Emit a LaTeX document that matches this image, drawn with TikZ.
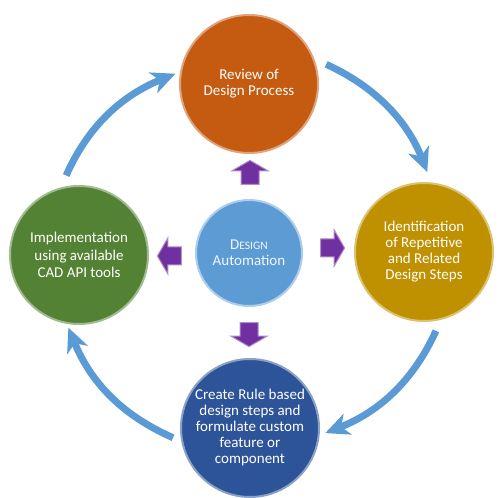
\documentclass[tikz,border=0pt]{standalone}
\usepackage{fontspec}
\setmainfont{Carlito}
\usetikzlibrary{arrows.meta,shapes.arrows}
\definecolor{faceR}{RGB}{197,90,17}
\definecolor{faceI}{RGB}{191,144,0}
\definecolor{faceC}{RGB}{45,84,152}
\definecolor{faceM}{RGB}{84,130,53}
\definecolor{hubc}{RGB}{93,155,213}
\definecolor{arcc}{RGB}{91,155,213}
\definecolor{pushc}{RGB}{112,48,160}
\tikzset{
  stage/.style={circle,fill=#1,draw=#1!55!white,line width=2pt,minimum size=138pt,
    inner sep=0pt,text=white,align=center,font=\fontsize{15}{16}\selectfont},
  hub/.style={circle,fill=hubc,draw=hubc!50!white,line width=2pt,minimum size=106pt,
    inner sep=0pt,text=white!92!hubc,align=center,font=\fontsize{15}{16}\selectfont},
  cyc/.style={-{Stealth[length=24pt,width=22pt,inset=7pt]},line width=7pt,arcc},
  push/.style={single arrow,fill=pushc,draw=pushc!55!white,line width=1pt,
    minimum height=24pt,inner xsep=0pt,inner ysep=8.5pt,single arrow head extend=9pt,
    single arrow tip angle=120,single arrow head indent=0pt},
}

\begin{document}
\begin{tikzpicture}[x=1pt,y=1pt]
  \useasboundingbox (0,0) rectangle (502,497);
  \node[stage=faceR] (review) at (249,413) {Review of\\Design Process};
  \node[stage=faceI] (ident) at (424,245)
    {Identification\\of Repetitive\\and Related\\Design Steps};
  \node[stage=faceC] (create) at (250,69)
    {Create Rule based\\design steps and\\formulate custom\\feature or\\component};
  \node[stage=faceM,font=\fontsize{15}{17.5}\selectfont] (impl) at (79,242)
    {Implementation\\using available\\CAD API tools};
  \node[hub] (design) at (249,244)
    {D{\fontsize{11.5}{12}\selectfont ESIGN}\\Automation};

  % block arrows round the hub
  \node[push,rotate=90] (toR) at (250,322) {};
  \node[push] (toI) at (330,249) {};
  \node[push,rotate=270] (toC) at (249,165) {};
  \node[push,rotate=180] (toM) at (172,241) {};

  % the cycle
  \draw[cyc,shorten <=13pt,shorten >=5pt] (impl.105) to[bend left=22] (review.170);
  \draw[cyc,shorten <=13pt,shorten >=11pt] (review.21) to[bend left=22] (ident.84);
  \draw[cyc,shorten <=12pt,shorten >=6pt] (ident.-76) to[bend left=22] (create.-6);
  \draw[cyc,shorten <=9pt,shorten >=4pt] (create.191) to[bend left=22] (impl.260);
\end{tikzpicture}
\end{document}
